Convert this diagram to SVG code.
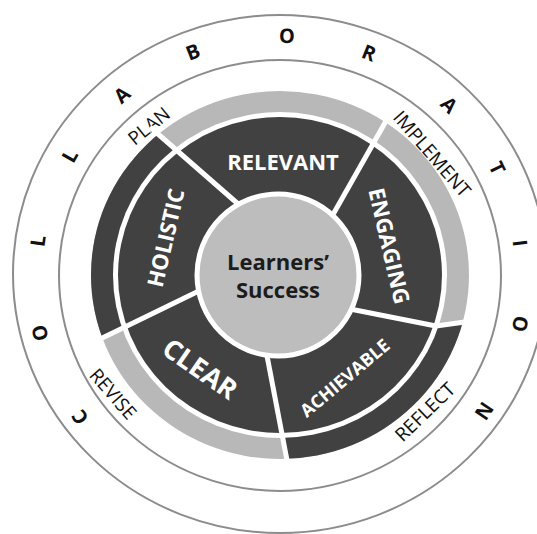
<svg xmlns="http://www.w3.org/2000/svg" width="537" height="534" viewBox="0 0 537 534">
  <defs>
    <style>
      .rim { fill: none; stroke: #8c8c8c; stroke-width: 2; }
      .dark { fill: #414141; }
      .grey { fill: #b8b8b8; }
      .cut { fill: none; stroke: #ffffff; stroke-width: 5; stroke-linejoin: round; }
      .ring-letter { font-family: "Open Sans", "DejaVu Sans", sans-serif; font-weight: 700; font-size: 20px; fill: #111; text-anchor: middle; }
      .stage { font-family: "Open Sans", "DejaVu Sans", sans-serif; font-weight: 400; font-size: 19px; fill: #111; text-anchor: middle; }
      .quality { font-family: "Open Sans", "DejaVu Sans", sans-serif; font-weight: 700; fill: #ffffff; text-anchor: middle; }
      .core { font-family: "Open Sans", "DejaVu Sans", sans-serif; font-weight: 700; font-size: 22px; fill: #1c1c1c; text-anchor: middle; }
    </style>
    <clipPath id="outer-disk">
      <ellipse cx="280" cy="275" rx="189" ry="184"/>
    </clipPath>
  </defs>

  <!-- outer guide circles -->
  <g id="frame">
    <ellipse class="rim" cx="280" cy="274" rx="267" ry="259"/>
    <ellipse class="rim" cx="280" cy="275.5" rx="221" ry="215.5"/>
  </g>

  <!-- COLLABORATION lettering around the band -->
  <g id="collaboration">
    <text class="ring-letter" transform="translate(80,417) rotate(-125.4)" dy="0.35em">C</text>
    <text class="ring-letter" transform="translate(40,333) rotate(-103.6)" dy="0.35em">O</text>
    <text class="ring-letter" transform="translate(38,241) rotate(-82)" dy="0.35em">L</text>
    <text class="ring-letter" transform="translate(70,156) rotate(-60.5)" dy="0.35em">L</text>
    <text class="ring-letter" transform="translate(122,95) rotate(-41.3)" dy="0.35em">A</text>
    <text class="ring-letter" transform="translate(193,52) rotate(-21.3)" dy="0.35em">B</text>
    <text class="ring-letter" transform="translate(287,36) rotate(1.7)" dy="0.35em">O</text>
    <text class="ring-letter" transform="translate(369,53) rotate(21.8)" dy="0.35em">R</text>
    <text class="ring-letter" transform="translate(449,105) rotate(44.8)" dy="0.35em">A</text>
    <text class="ring-letter" transform="translate(497,168) rotate(63.8)" dy="0.35em">T</text>
    <text class="ring-letter" transform="translate(520,243) rotate(82.4)" dy="0.35em">I</text>
    <text class="ring-letter" transform="translate(520,324) rotate(101.5)" dy="0.35em">O</text>
    <text class="ring-letter" transform="translate(484,411) rotate(123.7)" dy="0.35em">N</text>
  </g>

  <!-- cycle stages -->
  <g id="stages">
    <text class="stage" transform="translate(149,126) rotate(-39)" dy="0.35em">PLAN</text>
    <text class="stage" transform="translate(432,154) rotate(49)" dy="0.35em">IMPLEMENT</text>
    <text class="stage" transform="translate(425,412) rotate(-44)" dy="0.35em">REFLECT</text>
    <text class="stage" transform="translate(113,394) rotate(49)" dy="0.35em">REVISE</text>
  </g>

  <!-- outer band: grey with two dark arcs -->
  <g id="band">
    <ellipse class="grey" cx="280" cy="275" rx="189" ry="184"/>
    <g clip-path="url(#outer-disk)">
      <polygon class="dark" points="280,275 436,326 540,314 540,540 302,540 288,466 278,415"/>
      <polygon class="dark" points="280,275 128,326 0,385 0,0 100,83 190,162"/>
    </g>
    <ellipse fill="#ffffff" cx="280" cy="275" rx="167" ry="163"/>
  </g>

  <!-- inner ring of qualities -->
  <g id="qualities">
    <ellipse class="dark" cx="280" cy="275" rx="162" ry="158"/>
  </g>

  <!-- dividing cuts -->
  <g id="connectors">
    <line class="cut" x1="150" y1="127" x2="245" y2="210"/>
    <line class="cut" x1="390" y1="114" x2="318" y2="241"/>
    <polyline class="cut" points="345,308 436,326 472,321"/>
    <line class="cut" x1="264" y1="340" x2="290" y2="476"/>
    <line class="cut" x1="205" y1="288" x2="92" y2="343"/>
  </g>

  <g id="relevant">
    <text class="quality" font-size="22" x="283" y="170">RELEVANT</text>
  </g>
  <g id="holistic">
    <text class="quality" font-size="22" transform="translate(166,238) rotate(-77)" dy="0.35em">HOLISTIC</text>
  </g>
  <g id="engaging">
    <text class="quality" font-size="22" transform="translate(389,246) rotate(77)" dy="0.35em">ENGAGING</text>
  </g>
  <g id="clear">
    <text class="quality" font-size="27" transform="translate(200,369) rotate(35)" dy="0.35em">CLEAR</text>
  </g>
  <g id="achievable">
    <text class="quality" font-size="18" transform="translate(345,378) rotate(-40)" dy="0.35em">ACHIEVABLE</text>
  </g>

  <!-- centre -->
  <g id="learners-success">
    <circle cx="278" cy="275" r="81" fill="#bdbdbd" stroke="#ffffff" stroke-width="5"/>
    <text class="core" x="278" y="270">Learners’</text>
    <text class="core" x="278" y="298">Success</text>
  </g>
</svg>
